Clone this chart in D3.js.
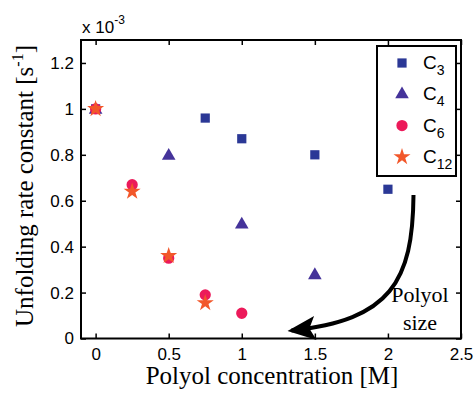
<!DOCTYPE html>
<html>
<head>
<meta charset="utf-8">
<script src="https://cdn.jsdelivr.net/npm/d3@7"></script>
<style>
  body { margin: 0; background: #fff; }
  svg { display: block; }
</style>
</head>
<body>
<div id="chart"></div>
<script>
// data (rate constant in units of 1e-3 s^-1)
const c3x = [0, 0.75, 1, 1.5, 2];
const c3y = [1, 0.96, 0.87, 0.80, 0.65];
const c4x = [0, 0.5, 1, 1.5];
const c4y = [1, 0.80, 0.50, 0.28];
const c6x = [0, 0.25, 0.5, 0.75, 1];
const c6y = [1, 0.67, 0.35, 0.19, 0.11];
const c12x = [0, 0.25, 0.5, 0.75];
const c12y = [1, 0.64, 0.36, 0.155];
const seriesNames = ['3', '4', '6', '12'];
const xTicks = [0, 0.5, 1, 1.5, 2, 2.5];
const yTicks = [0, 0.2, 0.4, 0.6, 0.8, 1, 1.2];

const width = 474, height = 395;
const margin = { top: 40, right: 13, bottom: 57, left: 81 };

const svg = d3.select('#chart').append('svg')
    .attr('width', width)
    .attr('height', height);

const x = d3.scaleLinear().domain([-0.1, 2.5]).range([margin.left, width - margin.right]);
const y = d3.scaleLinear().domain([0, 1.3]).range([height - margin.bottom + 0.5, margin.top]);

const sans = 'Liberation Sans, Arial, sans-serif';
const serif = 'Liberation Serif, Times New Roman, serif';

// axes with inward ticks on all four sides
const fmt = d => d3.format('~g')(d);
const axBottom = svg.append('g')
    .attr('transform', `translate(0,${y(0)})`)
    .call(d3.axisBottom(x).tickValues(xTicks).tickFormat(fmt).tickSizeInner(-5).tickSizeOuter(0).tickPadding(9));
const axTop = svg.append('g')
    .attr('transform', `translate(0,${margin.top})`)
    .call(d3.axisTop(x).tickValues(xTicks).tickFormat('').tickSizeInner(-5).tickSizeOuter(0));
const axLeft = svg.append('g')
    .attr('transform', `translate(${margin.left},0)`)
    .call(d3.axisLeft(y).tickValues(yTicks).tickFormat(fmt).tickSizeInner(-5).tickSizeOuter(0).tickPadding(7));
const axRight = svg.append('g')
    .attr('transform', `translate(${width - margin.right},0)`)
    .call(d3.axisRight(y).tickValues(yTicks).tickFormat('').tickSizeInner(-5).tickSizeOuter(0));

[axBottom, axTop, axLeft, axRight].forEach(g => {
    g.selectAll('.domain').remove();
    g.selectAll('line').attr('stroke', '#000').attr('stroke-width', 1.5);
    g.selectAll('text').attr('font-family', sans).attr('font-size', 17).attr('fill', '#000');
});

// frame
svg.append('rect')
    .attr('x', margin.left)
    .attr('y', margin.top)
    .attr('width', width - margin.right - margin.left)
    .attr('height', y(0) - margin.top)
    .attr('fill', 'none')
    .attr('stroke', '#000')
    .attr('stroke-width', 2);

// exponent
const expo = svg.append('text')
    .attr('x', margin.left + 1)
    .attr('y', 33)
    .attr('font-family', sans)
    .attr('font-size', 17);
expo.append('tspan').text('x 10');
expo.append('tspan').attr('dy', -9).attr('font-size', 12).text('-3');

// markers
const colors = ['#2b3896', '#45339a', '#ec1a5a', '#f2572a'];
const symbols = [d3.symbolSquare, d3.symbolTriangle, d3.symbolCircle, d3.symbolStar];
const sizes = [85, 80, 100, 90];
const sets = [[c3x, c3y], [c4x, c4y], [c6x, c6y], [c12x, c12y]];

sets.forEach(([xs, ys], i) => {
    svg.append('g').selectAll('path')
        .data(xs.map((v, j) => [v, ys[j]]))
        .join('path')
        .attr('transform', d => `translate(${x(d[0])},${y(d[1]) + (i === 1 ? 1 : 0)})`)
        .attr('d', d3.symbol().type(symbols[i]).size(sizes[i]))
        .attr('fill', colors[i]);
});

// legend
const lg = svg.append('g').attr('transform', 'translate(377,46)');
lg.append('rect')
    .attr('width', 79)
    .attr('height', 130)
    .attr('fill', '#fff')
    .attr('stroke', '#000')
    .attr('stroke-width', 2);
seriesNames.forEach((n, i) => {
    const row = lg.append('g').attr('transform', `translate(25,${17 + i * 31.3})`);
    row.append('path')
        .attr('d', d3.symbol().type(symbols[i]).size(sizes[i]))
        .attr('fill', colors[i]);
    const t = row.append('text')
        .attr('x', 21)
        .attr('y', 6)
        .attr('font-family', sans)
        .attr('font-size', 19);
    t.append('tspan').text('C');
    t.append('tspan').attr('dy', 6).attr('font-size', 14).text(n);
});

// axis titles
svg.append('text')
    .attr('x', (margin.left + width - margin.right) / 2 + 1)
    .attr('y', 384)
    .attr('text-anchor', 'middle')
    .attr('font-family', serif)
    .attr('font-size', 25)
    .text('Polyol concentration [M]');

const yl = svg.append('text')
    .attr('transform', `translate(33,186) rotate(-90)`)
    .attr('text-anchor', 'middle')
    .attr('font-family', serif)
    .attr('font-size', 25);
yl.append('tspan').text('Unfolding rate constant [s');
yl.append('tspan').attr('dy', -10).attr('font-size', 16).text('-1');
yl.append('tspan').attr('dy', 10).text(']');

// curved arrow "Polyol size"
svg.append('defs').append('marker')
    .attr('id', 'arrow')
    .attr('viewBox', '0 -6 14 12')
    .attr('refX', 12)
    .attr('refY', 0)
    .attr('markerWidth', 7)
    .attr('markerHeight', 6)
    .attr('markerUnits', 'strokeWidth')
    .attr('orient', 'auto')
    .append('path')
    .attr('d', 'M0,-6L14,0L0,6L3,0Z')
    .attr('fill', '#000');

const arrowPts = [[2.175, 0.625], [2.17, 0.25], [2.02, 0.08], [1.34, 0.035]];
const ap = arrowPts.map(d => [x(d[0]), y(d[1])]);
svg.append('path')
    .attr('d', `M${ap[0]} C${ap[1]} ${ap[2]} ${ap[3]}`)
    .attr('fill', 'none')
    .attr('stroke', '#000')
    .attr('stroke-width', 4)
    .attr('marker-end', 'url(#arrow)');

svg.append('text')
    .attr('x', 420)
    .attr('y', 302)
    .attr('text-anchor', 'middle')
    .attr('font-family', serif)
    .attr('font-size', 22)
    .text('Polyol');
svg.append('text')
    .attr('x', 420)
    .attr('y', 330)
    .attr('text-anchor', 'middle')
    .attr('font-family', serif)
    .attr('font-size', 22)
    .text('size');
</script>
</body>
</html>
